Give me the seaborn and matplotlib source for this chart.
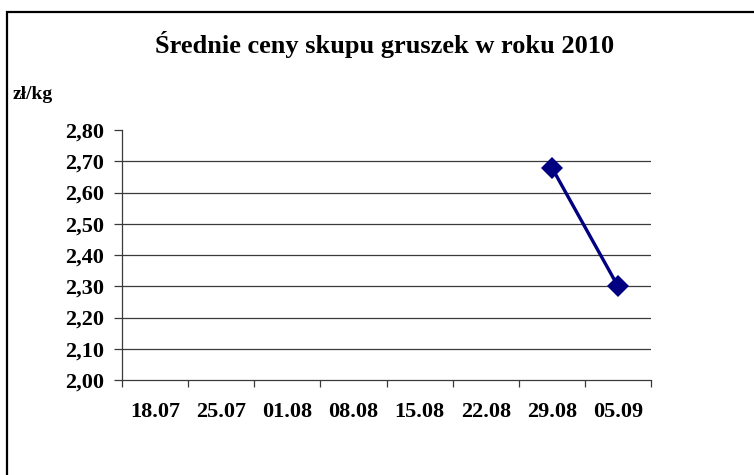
import matplotlib
matplotlib.use("Agg")
import matplotlib.pyplot as plt
import numpy as np
import pandas as pd
import seaborn as sns
from matplotlib.patches import Rectangle

dates = ["18.07", "25.07", "01.08", "08.08", "15.08", "22.08", "29.08", "05.09"]
prices = [np.nan, np.nan, np.nan, np.nan, np.nan, np.nan, 2.68, 2.30]
y_ticks = [2.00, 2.10, 2.20, 2.30, 2.40, 2.50, 2.60, 2.70, 2.80]

title = "Średnie ceny skupu gruszek w roku 2010"
unit = "zł/kg"

sns.set_theme(style="white")
plt.rcParams["font.family"] = ["Liberation Serif", "DejaVu Serif"]
plt.rcParams["text.color"] = "black"
plt.rcParams["xtick.color"] = "black"
plt.rcParams["ytick.color"] = "black"

df = pd.DataFrame({"pos": np.arange(len(dates)), "date": dates, "price": prices})

fig = plt.figure(figsize=(7.54, 4.75), dpi=100)
ax = fig.add_axes([0.1618, 0.2, 0.7016, 0.5263])

# horizontal grid lines (none on top)
for v in y_ticks[1:-1]:
    ax.axhline(v, color="#3a3a3a", linewidth=0.9, zorder=0)

sns.lineplot(data=df.dropna(), x="pos", y="price", ax=ax, color="#000080",
             linewidth=2.4, marker="D", markersize=11, markeredgewidth=0,
             zorder=3)

ax.set_xlim(-0.5, len(dates) - 0.5)
ax.set_ylim(2.0, 2.8)
ax.set_yticks(y_ticks)
ax.set_yticklabels([f"{v:.2f}".replace(".", ",") for v in y_ticks],
                   fontsize=16, fontweight="bold")
ax.set_xticks(np.arange(len(dates) + 1) - 0.5)
ax.set_xticklabels([])
ax.set_xticks(np.arange(len(dates)), minor=True)
ax.set_xticklabels(dates, minor=True, fontsize=16, fontweight="bold")
ax.tick_params(axis="x", which="major", length=5, width=0.9, color="#3a3a3a",
               direction="out", bottom=True)
ax.tick_params(axis="x", which="minor", length=0, pad=16)
ax.tick_params(axis="y", length=6, width=0.9, color="#3a3a3a", direction="out",
               left=True, pad=7)
ax.set_xlabel("")
ax.set_ylabel("")

for s in ["top", "right"]:
    ax.spines[s].set_visible(False)
for s in ["left", "bottom"]:
    ax.spines[s].set_color("#3a3a3a")
    ax.spines[s].set_linewidth(0.9)

fig.text(0.51, 0.907, title, ha="center", va="center", fontsize=19,
         fontweight="bold")
fig.text(0.017, 0.802, unit, ha="left", va="center", fontsize=14,
         fontweight="bold")

fig.patches.append(Rectangle((7 / 754, -0.05), 1.0, 1 - 12 / 475 + 0.05,
                             transform=fig.transFigure, fill=False,
                             edgecolor="black", linewidth=1.6))

fig.savefig("out.png", dpi=100)
